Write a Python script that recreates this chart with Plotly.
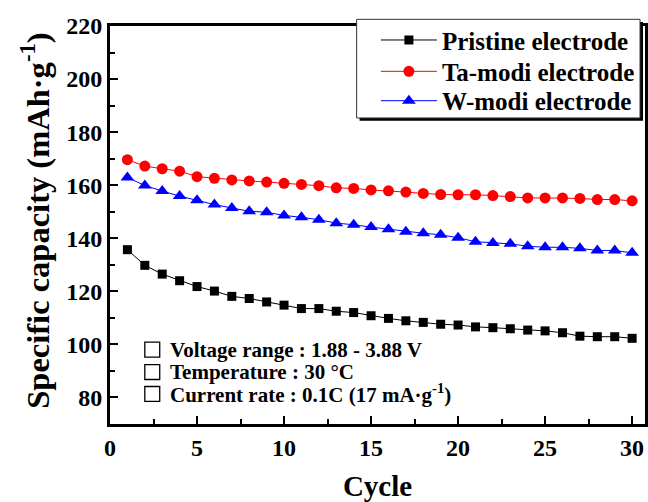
import plotly.graph_objects as go

cycles = list(range(1, 31))
pristine = [135.7, 129.8, 126.5, 124.0, 121.8, 120.1, 118.1, 117.3, 116.0, 114.8,
            113.5, 113.5, 112.5, 112.0, 110.8, 109.8, 108.9, 108.3, 107.6, 107.3,
            106.6, 106.3, 105.9, 105.4, 105.1, 104.4, 103.1, 102.9, 102.9, 102.3]
ta_modi = [169.6, 167.2, 166.2, 165.3, 163.2, 162.6, 162.0, 161.6, 161.2, 160.7,
           160.3, 159.8, 159.0, 158.8, 158.2, 157.9, 157.4, 156.9, 156.5, 156.4,
           156.4, 156.1, 155.7, 155.2, 155.2, 155.2, 155.0, 154.6, 154.6, 154.1]
w_modi = [162.9, 159.9, 157.8, 155.9, 154.3, 152.7, 151.4, 150.2, 149.8, 148.6,
          147.9, 147.0, 145.7, 145.1, 144.2, 143.4, 142.5, 141.9, 141.3, 140.2,
          138.7, 138.2, 137.9, 137.0, 136.6, 136.6, 136.2, 135.4, 135.4, 134.5]
series_names = ["Pristine electrode", "Ta-modi electrode", "W-modi electrode"]
notes = ["Voltage range : 1.88 - 3.88 V", "Temperature : 30 \u00b0C",
         "Current rate : 0.1C (17 mA\u00b7g<sup>-1</sup>)"]
x_ticks = [0, 5, 10, 15, 20, 25, 30]
y_ticks = [80, 100, 120, 140, 160, 180, 200, 220]

FONT = "Liberation Serif"

fig = go.Figure()
fig.add_trace(go.Scatter(x=cycles, y=pristine, name="<b>" + series_names[0] + "</b>", mode="lines+markers",
                         line=dict(color="black", width=1), legend="legend",
                         marker=dict(symbol="square", size=9, color="black")))
fig.add_trace(go.Scatter(x=cycles, y=ta_modi, name="<b>" + series_names[1] + "</b>", mode="lines+markers",
                         line=dict(color="#ff0000", width=1), legend="legend2",
                         marker=dict(symbol="circle", size=11, color="#ff0000")))
fig.add_trace(go.Scatter(x=cycles, y=w_modi, name="<b>" + series_names[2] + "</b>", mode="lines+markers",
                         line=dict(color="#0000ff", width=1), legend="legend3",
                         marker=dict(symbol="triangle-up", size=12, color="#0000ff")))

axis_common = dict(showline=True, linecolor="black", linewidth=3, mirror=True,
                   ticks="inside", ticklen=8, tickwidth=2, tickcolor="black",
                   showgrid=False, zeroline=False,
                   tickfont=dict(family=FONT, size=24, color="black"))

fig.update_xaxes(range=[0, 30.74], tickmode="array", tickvals=x_ticks,
                 ticktext=["<b>%d</b>" % v for v in x_ticks],
                 minor=dict(ticks="inside", ticklen=5, tickwidth=2, tickcolor="black", dtick=2.5, tick0=0),
                 title=dict(text="<b>Cycle</b>", font=dict(family=FONT, size=29, color="black"),
                            standoff=21),
                 **axis_common)
fig.update_yaxes(range=[70, 220], tickmode="array", tickvals=y_ticks,
                 ticktext=["<b>%d</b>" % v for v in y_ticks],
                 minor=dict(ticks="inside", ticklen=5, tickwidth=2, tickcolor="black", dtick=10, tick0=0),
                 **axis_common)

shapes = []
# legend shadow and box
shapes.append(dict(type="rect", xref="paper", yref="paper", x0=0.4665, x1=0.9963, y0=0.762, y1=1.010,
                   fillcolor="black", line=dict(width=0), layer="above"))
shapes.append(dict(type="rect", xref="paper", yref="paper", x0=0.461, x1=0.9907, y0=0.769, y1=1.0168,
                   fillcolor="white", line=dict(color="#333333", width=1), layer="above"))
ann = []
# y-axis title
ann.append(dict(text="<b>Specific capacity (mAh\u00b7g<sup>-1</sup>)</b>", xref="paper", yref="paper",
                x=(35 - 110) / 538, y=(425.7 - 221) / 400, textangle=-90, showarrow=False,
                xanchor="center", yanchor="middle",
                font=dict(family=FONT, size=32.5, color="black")))
# note boxes
ys = [0.187, 0.1305, 0.0755]
for t, yy in zip(notes, ys):
    shapes.append(dict(type="rect", xref="paper", yref="paper",
                       x0=(145 - 110) / 538, x1=(160 - 110) / 538,
                       y0=yy - 7.5 / 400, y1=yy + 7.5 / 400,
                       line=dict(color="black", width=1.3), fillcolor="rgba(0,0,0,0)"))
    ann.append(dict(text="<b>" + t + "</b>", xref="paper", yref="paper", x=(168 - 110) / 538, y=yy,
                    xanchor="left", yanchor="middle", showarrow=False,
                    font=dict(family=FONT, size=21, color="black")))

leg_common = dict(x=0.497, xanchor="left", yanchor="middle",
                  bgcolor="rgba(0,0,0,0)", borderwidth=0,
                  font=dict(family=FONT, size=25, color="black"), itemwidth=56)

fig.update_layout(
    width=648, height=502,
    margin=dict(l=110, r=0, t=26, b=76),
    paper_bgcolor="white", plot_bgcolor="white",
    showlegend=True,
    legend=dict(y=(425.7 - 40) / 400, **leg_common),
    legend2=dict(y=(425.7 - 71.5) / 400, **leg_common),
    legend3=dict(y=(425.7 - 101) / 400, **leg_common),
    shapes=shapes, annotations=ann,
)

fig.write_html("out.html")
